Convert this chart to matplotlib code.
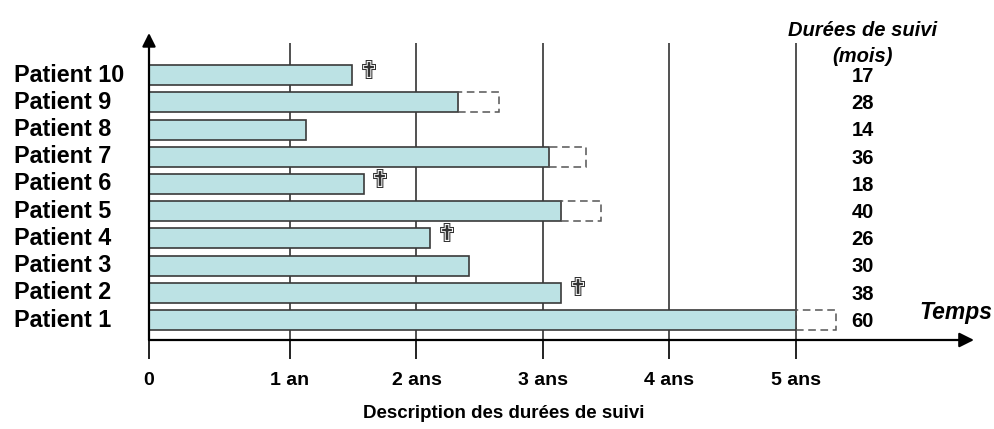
import numpy as np
import matplotlib
matplotlib.use('Agg')
import matplotlib.pyplot as plt
from matplotlib.transforms import blended_transform_factory

plt.rcParams['font.family'] = ['Liberation Sans', 'DejaVu Sans']

# data (months), patient 1 at the bottom
patients = ['Patient 1', 'Patient 2', 'Patient 3', 'Patient 4', 'Patient 5',
            'Patient 6', 'Patient 7', 'Patient 8', 'Patient 9', 'Patient 10']
bar_months = [60, 37.7, 29, 25.3, 37.7, 19, 36.6, 13.5, 27.9, 17.9]
censored_to = [63.8, None, None, None, 41.5, None, 40.1, None, 31.8, None]
deceased = [False, True, False, True, False, True, False, False, False, True]
follow_up = [60, 38, 30, 26, 40, 18, 36, 14, 28, 17]
year_ticks = [0, 12, 24, 36, 48, 60]
year_labels = ['0', '1 an', '2 ans', '3 ans', '4 ans', '5 ans']

# first year is drawn a bit wider than the others
k = 1.115
def fwd(m):
    m = np.asarray(m, dtype=float)
    return np.where(m < 12, m * k, m + 12 * (k - 1))
def inv(u):
    u = np.asarray(u, dtype=float)
    return np.where(u < 12 * k, u / k, u - 12 * (k - 1))

W, H = 995, 429
fig = plt.figure(figsize=(W / 100, H / 100), dpi=100)
ax = fig.add_axes([149 / W, 89 / H, 825 / W, 307 / H])
ax.set_xscale('function', functions=(fwd, inv))
ax.set_xlim(0, 76.9)
ax.set_ylim(0.265, 11.55)

y = np.arange(1, len(patients) + 1)
bh = 0.735

# vertical year lines
ax.vlines(year_ticks[1:], 0.265, 11.2, color='#333333', lw=1.2, zorder=1)

ax.barh(y, bar_months, height=bh, color='#bce2e4', edgecolor='#3a3a3a',
        linewidth=1.2, zorder=3)

for yi, b, c in zip(y, bar_months, censored_to):
    if c is not None:
        ax.barh(yi, c - b, left=b, height=bh, fill=False, edgecolor='#555555',
                linestyle=(0, (5, 3)), linewidth=1.1, zorder=3)

for yi, b, d in zip(y, bar_months, deceased):
    if d:
        ax.annotate('\u271F', xy=(b, yi), xytext=(12, 2.5), textcoords='offset points',
                    ha='center', va='center', fontsize=19, color='#333333',
                    family=['DejaVu Sans'], zorder=4)

# patient names on the left
lab_tr = blended_transform_factory(fig.transFigure, ax.transData)
for yi, p in zip(y, patients):
    ax.text(14 / W, yi, p, transform=lab_tr, ha='left', va='center',
            fontsize=16.8, fontweight='bold')

# follow-up column
col_tr = ax.get_yaxis_transform()
for yi, v in zip(y, follow_up):
    ax.text(0.865, yi - 0.05, str(v), transform=col_tr, ha='center', va='center',
            fontsize=14.5, fontweight='bold')
fig.text(863 / W, 1 - 30 / H, 'Durées de suivi', ha='center', va='center',
         fontsize=14.5, fontweight='bold', style='italic')
fig.text(863 / W, 1 - 57 / H, '(mois)', ha='center', va='center',
         fontsize=14.5, fontweight='bold', style='italic')
fig.text(956 / W, 1 - 312 / H, 'Temps', ha='center', va='center',
         fontsize=16.5, fontweight='bold', style='italic')

# axes with arrows
for s in ax.spines.values():
    s.set_visible(False)
ax.annotate('', xy=(1, 0), xytext=(0, 0), xycoords='axes fraction',
            arrowprops=dict(arrowstyle='-|>', color='black', lw=1.6,
                            mutation_scale=22, shrinkA=0, shrinkB=0))
ax.annotate('', xy=(0, 1), xytext=(0, 0), xycoords='axes fraction',
            arrowprops=dict(arrowstyle='-|>', color='black', lw=1.6,
                            mutation_scale=20, shrinkA=0, shrinkB=0))

ax.set_xticks(year_ticks)
ax.set_xticklabels(year_labels, fontsize=14, fontweight='bold')
ax.xaxis.set_minor_locator(matplotlib.ticker.NullLocator())
ax.tick_params(axis='x', length=14, width=1.4, color='#222222', pad=9)
ax.set_yticks([])

fig.text(504 / W, 1 - 413 / H, 'Description des durées de suivi', ha='center',
         va='center', fontsize=13.5, fontweight='bold')

fig.savefig('out.png', dpi=100)
